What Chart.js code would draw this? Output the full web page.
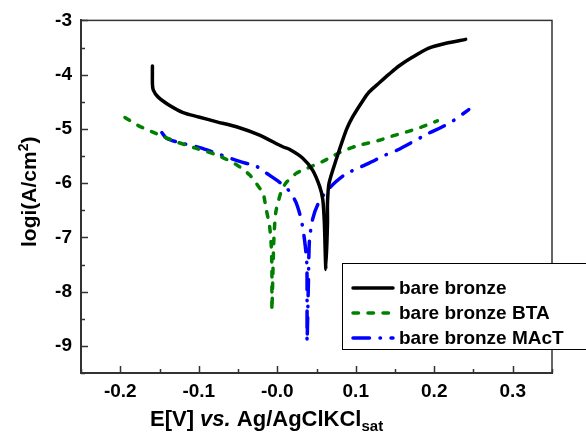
<!DOCTYPE html>
<html>
<head>
<meta charset="utf-8">
<script src="https://cdn.jsdelivr.net/npm/chart.js@4/dist/chart.umd.min.js"></script>
<style>
  html, body { margin: 0; padding: 0; background: #fff; }
</style>
</head>
<body>
<canvas id="tafel" width="586" height="435"></canvas>
<script>
// Potentiodynamic polarisation curves, E vs log i
const bareE    = [-0.159, -0.159, -0.158, -0.152, -0.137, -0.120, -0.100, -0.077, -0.052, -0.0225, 0.007, 0.016, 0.0325, 0.045, 0.054, 0.058, 0.060, 0.062, 0.064, 0.064, 0.066, 0.075, 0.088, 0.096, 0.109, 0.117, 0.130, 0.1425, 0.155, 0.172, 0.193, 0.215, 0.240];
const bareLogI = [-3.84, -4.17, -4.28, -4.41, -4.57, -4.70, -4.78, -4.87, -4.96, -5.115, -5.33, -5.38, -5.54, -5.76, -6.06, -6.30, -6.73, -7.59, -6.73, -6.36, -6.00, -5.57, -5.02, -4.78, -4.48, -4.32, -4.15, -3.99, -3.84, -3.68, -3.51, -3.42, -3.35];

const btaE    = [-0.194, -0.177, -0.160, -0.128, -0.103, -0.077, -0.052, -0.035, -0.0225, -0.018, -0.014, -0.0098, -0.0076, -0.0068, -0.0068, -0.0068, -0.0058, -0.0043, -0.002, 0.002, 0.006, 0.0114, 0.018, 0.024, 0.0325, 0.058, 0.079, 0.100, 0.130, 0.147, 0.166, 0.185, 0.204];
const btaLogI = [-4.79, -4.94, -5.05, -5.24, -5.36, -5.48, -5.66, -5.85, -6.09, -6.18, -6.49, -6.79, -7.16, -7.58, -8.01, -8.34, -7.80, -7.03, -6.55, -6.30, -6.12, -5.99, -5.90, -5.82, -5.76, -5.60, -5.44, -5.32, -5.21, -5.13, -5.05, -4.96, -4.85];

const mactE    = [-0.147, -0.141, -0.128, -0.0986, -0.0774, -0.048, -0.0267, -0.014, 0.003, 0.0156, 0.024, 0.0305, 0.0346, 0.0376, 0.038, 0.038, 0.0397, 0.041, 0.045, 0.0515, 0.062, 0.075, 0.0876, 0.117, 0.138, 0.153, 0.193, 0.208, 0.223, 0.244];
const mactLogI = [-5.07, -5.175, -5.24, -5.345, -5.45, -5.60, -5.69, -5.815, -5.985, -6.15, -6.36, -6.67, -7.03, -7.46, -8.19, -8.92, -7.83, -7.06, -6.67, -6.40, -6.16, -5.97, -5.83, -5.63, -5.48, -5.39, -5.08, -4.98, -4.86, -4.645];

const seriesNames = ['bare bronze', 'bare bronze BTA', 'bare bronze MAcT'];

const xMin = -0.25, xMax = 0.35, xStep = 0.05;
const yMin = -9.5, yMax = -3, yStep = 0.5;

const FONT = '"Liberation Sans", Arial, sans-serif';

function pairs(xs, ys) {
  return xs.map((v, i) => ({ x: v, y: ys[i] }));
}

function isTenth(v) {
  return Math.abs(v * 10 - Math.round(v * 10)) < 1e-6;
}
function isWhole(v) {
  return Math.abs(v - Math.round(v)) < 1e-6;
}

// inward tick marks plus the closed frame
const frameTicks = {
  id: 'frameTicks',
  afterDatasetsDraw(chart) {
    const { ctx, chartArea: a, scales: { x, y } } = chart;
    ctx.save();
    ctx.strokeStyle = '#333';
    ctx.lineWidth = 1.5;
    ctx.strokeRect(a.left, a.top, a.right - a.left, a.bottom - a.top);
    ctx.beginPath();
    x.ticks.forEach(t => {
      const px = Math.round(x.getPixelForValue(t.value)) + 0.5;
      const len = isTenth(t.value) ? 7 : 4;
      ctx.moveTo(px, a.bottom);
      ctx.lineTo(px, a.bottom - len);
    });
    y.ticks.forEach(t => {
      const py = Math.round(y.getPixelForValue(t.value)) + 0.5;
      const len = isWhole(t.value) ? 7 : 4;
      ctx.moveTo(a.left, py);
      ctx.lineTo(a.left + len, py);
    });
    ctx.stroke();
    ctx.restore();
  }
};

// axis titles with italic / sub / superscript parts
const axisTitles = {
  id: 'axisTitles',
  afterDraw(chart) {
    const ctx = chart.ctx;
    ctx.save();
    ctx.fillStyle = '#000';
    ctx.textBaseline = 'alphabetic';
    ctx.textAlign = 'left';

    // x title
    const parts = [
      { t: 'E[V] ', f: 'bold 22px ' + FONT, dy: 0 },
      { t: 'vs.', f: 'italic bold 22px ' + FONT, dy: 0 },
      { t: ' Ag/AgClKCl', f: 'bold 22px ' + FONT, dy: 0 },
      { t: 'sat', f: 'bold 15px ' + FONT, dy: 5 }
    ];
    let cx = 150;
    const base = 426;
    parts.forEach(p => {
      ctx.font = p.f;
      ctx.fillText(p.t, cx, base + p.dy);
      cx += ctx.measureText(p.t).width;
    });

    // y title, rotated
    ctx.translate(36, 247);
    ctx.rotate(-Math.PI / 2);
    const yparts = [
      { t: 'logi(A/cm', f: 'bold 21px ' + FONT, dy: 0 },
      { t: '2', f: 'bold 14px ' + FONT, dy: -8 },
      { t: ')', f: 'bold 21px ' + FONT, dy: 0 }
    ];
    let cy = 0;
    yparts.forEach(p => {
      ctx.font = p.f;
      ctx.fillText(p.t, cy, p.dy);
      cy += ctx.measureText(p.t).width;
    });
    ctx.restore();
  }
};

// boxed legend sitting over the lower right corner
const boxLegend = {
  id: 'boxLegend',
  afterDraw(chart) {
    const ctx = chart.ctx;
    const left = 342, top = 263, bottom = 349, right = 600;
    ctx.save();
    ctx.fillStyle = '#fff';
    ctx.fillRect(left, top, right - left, bottom - top);
    ctx.strokeStyle = '#000';
    ctx.lineWidth = 1;
    ctx.strokeRect(left + 0.5, top + 0.5, right - left, bottom - top);
    ctx.font = 'bold 19px ' + FONT;
    ctx.textBaseline = 'middle';
    ctx.fillStyle = '#000';
    chart.data.datasets.forEach((ds, i) => {
      const yy = 288 + i * 25;
      ctx.strokeStyle = ds.borderColor;
      ctx.lineWidth = ds.borderWidth;
      ctx.lineCap = ds.borderCapStyle || 'butt';
      ctx.setLineDash(ds.borderDash || []);
      ctx.beginPath();
      ctx.moveTo(353, yy);
      ctx.lineTo(393, yy);
      ctx.stroke();
      ctx.setLineDash([]);
      ctx.fillText(ds.label, 399, yy + 1);
    });
    ctx.restore();
  }
};

new Chart(document.getElementById('tafel').getContext('2d'), {
  type: 'scatter',
  data: {
    datasets: [
      {
        label: seriesNames[0],
        data: pairs(bareE, bareLogI),
        showLine: true,
        borderColor: '#000000',
        borderWidth: 3.5,
        borderCapStyle: 'round',
        pointRadius: 0,
        tension: 0.25
      },
      {
        label: seriesNames[1],
        data: pairs(btaE, btaLogI),
        showLine: true,
        borderColor: '#008000',
        borderWidth: 3.5,
        borderCapStyle: 'round',
        borderDash: [5.5, 9.5],
        pointRadius: 0,
        tension: 0.25
      },
      {
        label: seriesNames[2],
        data: pairs(mactE, mactLogI),
        showLine: true,
        borderColor: '#0000ff',
        borderWidth: 3.5,
        borderCapStyle: 'round',
        borderDash: [16.5, 10.5, 0.5, 10.5],
        pointRadius: 0,
        tension: 0.25
      }
    ]
  },
  options: {
    responsive: false,
    animation: false,
    devicePixelRatio: 1,
    layout: { padding: { left: 0, right: 34, top: 16, bottom: 0 } },
    plugins: {
      legend: { display: false },
      tooltip: { enabled: false }
    },
    scales: {
      x: {
        type: 'linear',
        min: xMin,
        max: xMax,
        grid: { display: false, drawTicks: false },
        border: { display: true, color: '#333', width: 2 },
        ticks: {
          stepSize: xStep,
          autoSkip: false,
          maxRotation: 0,
          padding: 7,
          color: '#000',
          font: { family: FONT, size: 19, weight: 'bold' },
          callback: v => isTenth(v) && v > xMin + 1e-6 && v < xMax - 1e-6 ? v.toFixed(1) : ''
        },
        afterFit: s => { s.height = 62; }
      },
      y: {
        type: 'linear',
        min: yMin,
        max: yMax,
        grid: { display: false, drawTicks: false },
        border: { display: true, color: '#333', width: 2 },
        ticks: {
          stepSize: yStep,
          autoSkip: false,
          padding: 9,
          color: '#000',
          font: { family: FONT, size: 19, weight: 'bold' },
          callback: v => isWhole(v) ? String(Math.round(v)) : ''
        },
        afterFit: s => { s.width = 81; }
      }
    }
  },
  plugins: [frameTicks, axisTitles, boxLegend]
});
</script>
</body>
</html>
